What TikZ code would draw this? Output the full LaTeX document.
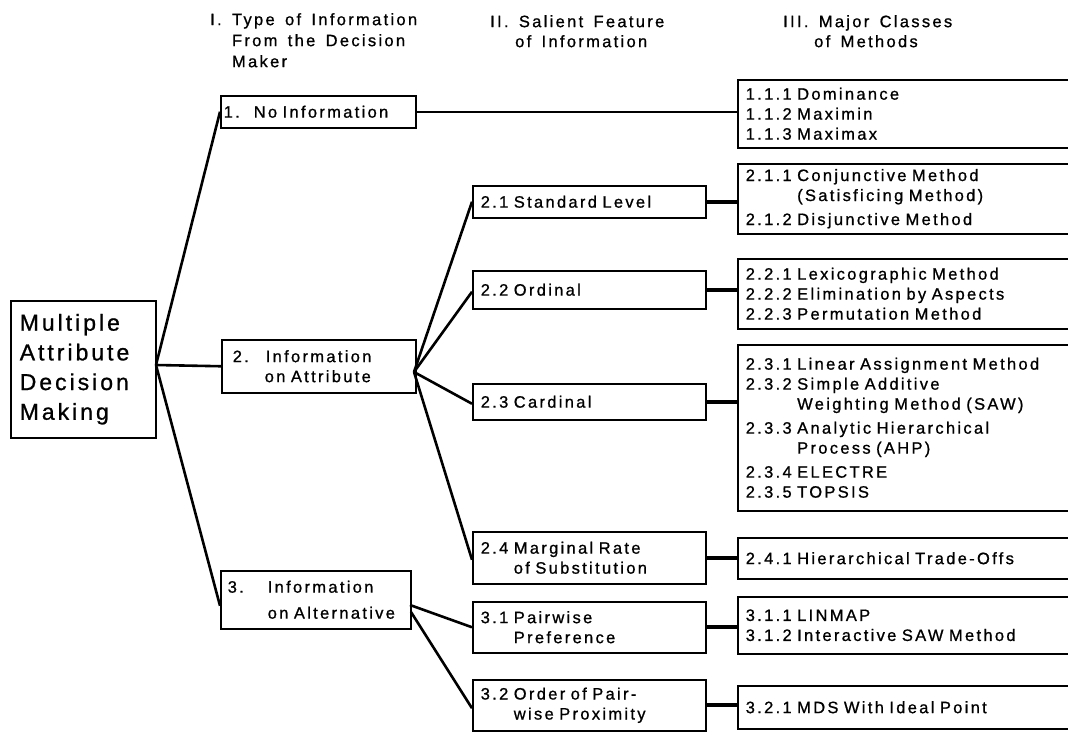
\documentclass[tikz,border=0pt]{standalone}
\usepackage{fontspec}
\setmainfont{Liberation Sans}[LetterSpace=14, WordSpace=1.5, FakeBold=0.9]
\newfontfamily\rootfont{Liberation Sans}[LetterSpace=13, FakeBold=0.9]
\usetikzlibrary{calc}
\begin{document}
\begin{tikzpicture}[x=1pt,y=-1pt,
  txt/.style={font=\fontsize{16.5}{20}\selectfont},
  frame/.style={draw, line width=1.5pt, anchor=north west, align=left, inner ysep=0pt, txt},
  mid/.style={frame, inner xsep=8pt, text width=217pt, minimum width=233pt},
  meth/.style={frame, inner xsep=8pt, text width=327pt, minimum width=343pt},
  head/.style={anchor=north west, align=left, inner sep=0pt, txt},
  fan/.style={line width=2.6pt},
  link/.style={line width=3.6pt},
  thinlink/.style={line width=1.5pt}]

\useasboundingbox (0,0) rectangle (1068,731);
\clip (0,0) rectangle (1068,731);

% column headings
\node[head, font=\fontsize{16.5}{21}\selectfont] (h1) at (210,13)
  {I. Type of Information\\\phantom{I. }From the Decision\\\phantom{I. }Maker};
\node[head] (h2) at (490,15) {II. Salient Feature\\\hspace*{25pt}of Information};
\node[head] (h3) at (783,15) {III. Major Classes\\\hspace*{31pt}of Methods};

% root
\node[frame, font=\rootfont\fontsize{23}{29.7}\selectfont, inner xsep=9pt,
      text width=127pt, minimum width=145pt, minimum height=137pt] (root) at (10,300)
  {Multiple\\Attribute\\Decision\\Making};

% I. type of information
\node[frame, inner xsep=3pt, text width=189pt, minimum width=195pt, minimum height=32pt] (n1) at (220,95)
  {\makebox[30pt][l]{1.}No Information};
\node[frame, inner xsep=11pt, text width=172pt, minimum width=194pt, minimum height=53pt] (n2) at (221,339)
  {\makebox[33pt][l]{2.}Information\\\hspace*{32pt}on Attribute};
\node[frame, inner xsep=7pt, text width=176pt, minimum width=190pt, minimum height=58pt] (n3) at (220,570)
  {\makebox[40pt][l]{3.}Information\\[6pt]\hspace*{40pt}on Alternative};

% II. salient feature
\node[mid, minimum height=32pt] (n21) at (472,185) {2.1 Standard Level};
\node[mid, minimum height=38pt] (n22) at (472,270) {2.2 Ordinal};
\node[mid, minimum height=36pt] (n23) at (472,383) {2.3 Cardinal};
\node[mid, minimum height=52pt] (n24) at (472,531) {2.4 Marginal Rate\\\phantom{2.4 }of Substitution};
\node[mid, minimum height=51pt] (n31) at (472,601) {3.1 Pairwise\\\phantom{3.1 }Preference};
\node[mid, minimum height=51pt] (n32) at (472,679) {3.2 Order of Pair-\\\phantom{3.2 }wise Proximity};

% III. classes of methods
\node[meth, minimum height=68pt] (m11) at (737,79)
  {1.1.1 Dominance\\1.1.2 Maximin\\1.1.3 Maximax};
\node[meth, minimum height=70pt] (m211) at (737,163)
  {2.1.1 Conjunctive Method\\\phantom{2.1.1 }(Satisficing Method)\\[4pt]2.1.2 Disjunctive Method};
\node[meth, minimum height=70pt] (m221) at (737,258)
  {2.2.1 Lexicographic Method\\2.2.2 Elimination by Aspects\\2.2.3 Permutation Method};
\node[meth, minimum height=166pt] (m231) at (737,344)
  {2.3.1 Linear Assignment Method\\2.3.2 Simple Additive\\\phantom{2.3.2 }Weighting Method (SAW)\\[4pt]
   2.3.3 Analytic Hierarchical\\\phantom{2.3.3 }Process (AHP)\\[4pt]2.3.4 ELECTRE\\2.3.5 TOPSIS};
\node[meth, minimum height=41pt] (m241) at (737,537) {2.4.1 Hierarchical Trade-Offs};
\node[meth, minimum height=57pt] (m311) at (737,596)
  {3.1.1 LINMAP\\3.1.2 Interactive SAW Method};
\node[meth, minimum height=43pt] (m321) at (737,685) {3.2.1 MDS With Ideal Point};

% fan points
\coordinate (f0) at (156,365);
\coordinate (f2) at (414,372);
\coordinate (f3a) at (410,605);
\coordinate (f3b) at (411,612);

% tree branches
\draw[fan] (f0) -- (n1.west);
\draw[fan] (f0) -- (n2.west);
\draw[fan] (f0) -- ($(n3.west)+(0,6)$);
\draw[fan] (f2) -- (n21.west);
\draw[fan] (f2) -- ($(n22.west)+(0,2)$);
\draw[fan] (f2) -- ($(n23.west)+(0,2)$);
\draw[fan] (f2) -- ($(n24.west)+(0,2)$);
\draw[fan] (f3a) -- (n31.west);
\draw[fan] (f3b) -- ($(n32.west)+(0,3)$);

% links to method classes
\draw[thinlink] (n1.east) -- (n1.east -| m11.west);
\draw[link] (n21.east) -- (n21.east -| m211.west);
\draw[link] (n22.east) -- (n22.east -| m221.west);
\draw[link] (n23.east) -- (n23.east -| m231.west);
\draw[link] (n24.east) -- (n24.east -| m241.west);
\draw[link] (n31.east) -- (n31.east -| m311.west);
\draw[link] (n32.east) -- (n32.east -| m321.west);
\end{tikzpicture}
\end{document}
